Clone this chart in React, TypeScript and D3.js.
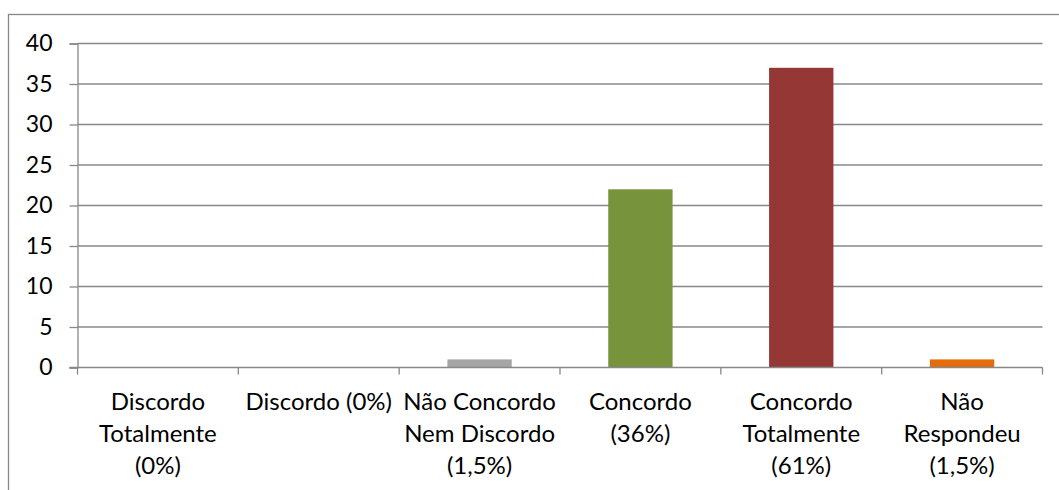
import * as d3 from "d3";
import { useEffect, useRef } from "react";

const categories = [
  ["Discordo", "Totalmente", "(0%)"],
  ["Discordo (0%)"],
  ["Não Concordo", "Nem Discordo", "(1,5%)"],
  ["Concordo", "(36%)"],
  ["Concordo", "Totalmente", "(61%)"],
  ["Não", "Respondeu", "(1,5%)"],
];
const values = [0, 0, 1, 22, 37, 1];
const colors = ["#A5A5A5", "#A5A5A5", "#A5A5A5", "#77933C", "#953735", "#E46C0A"];
const yTicks = [0, 5, 10, 15, 20, 25, 30, 35, 40];

export default function App() {
  const ref = useRef<SVGSVGElement | null>(null);

  useEffect(() => {
    if (!ref.current) return;
    const svg = d3.select(ref.current);
    svg.selectAll("*").remove();

    const width = 1059;
    const height = 490;
    const left = 77.5;
    const right = 1042.5;
    const top = 43.5;
    const bottom = 367.5;
    const font = "Lato, 'Open Sans', sans-serif";
    const grid = "#888888";

    // chart frame (only top/left visible)
    svg
      .append("rect")
      .attr("x", 8.5)
      .attr("y", 14.5)
      .attr("width", width + 20)
      .attr("height", height + 20)
      .attr("fill", "none")
      .attr("stroke", grid)
      .attr("stroke-width", 1.3);

    const x = d3
      .scaleBand<number>()
      .domain(d3.range(categories.length))
      .range([left, right])
      .paddingInner(0.6)
      .paddingOuter(0.3);
    const y = d3.scaleLinear().domain([0, 40]).range([bottom, top]);

    // gridlines
    svg
      .append("g")
      .selectAll("line")
      .data(yTicks.filter((t) => t > 0))
      .join("line")
      .attr("x1", left)
      .attr("x2", right)
      .attr("y1", (d) => y(d))
      .attr("y2", (d) => y(d))
      .attr("stroke", grid)
      .attr("stroke-width", 1.3);

    // bars
    svg
      .append("g")
      .selectAll("rect")
      .data(values)
      .join("rect")
      .attr("x", (_d, i) => x(i)!)
      .attr("width", x.bandwidth())
      .attr("y", (d) => y(d))
      .attr("height", (d) => bottom - y(d))
      .attr("fill", (_d, i) => colors[i]);

    // y axis
    const yAxis = svg
      .append("g")
      .attr("transform", `translate(${left},0)`)
      .call(d3.axisLeft(y).tickValues(yTicks).tickSize(8).tickPadding(17));
    yAxis.select(".domain").attr("stroke", grid).attr("stroke-width", 1.3);
    yAxis.selectAll(".tick line").attr("stroke", grid).attr("stroke-width", 1.3);
    yAxis
      .selectAll(".tick text")
      .attr("fill", "#000")
      .style("font-family", font)
      .style("font-size", "23px");

    // x axis line + ticks at category boundaries
    const step = (right - left) / categories.length;
    svg
      .append("line")
      .attr("x1", left - 8)
      .attr("x2", right)
      .attr("y1", bottom)
      .attr("y2", bottom)
      .attr("stroke", grid)
      .attr("stroke-width", 1.3);
    svg
      .append("g")
      .selectAll("line")
      .data(d3.range(categories.length + 1))
      .join("line")
      .attr("x1", (d) => left + d * step)
      .attr("x2", (d) => left + d * step)
      .attr("y1", bottom)
      .attr("y2", bottom + 7)
      .attr("stroke", grid)
      .attr("stroke-width", 1.3);

    // category labels
    const labels = svg
      .append("g")
      .selectAll("text")
      .data(categories)
      .join("text")
      .attr("text-anchor", "middle")
      .attr("fill", "#000")
      .style("font-family", font)
      .style("font-size", "24px")
      .attr("transform", (_d, i) => `translate(${x(i)! + x.bandwidth() / 2},410)`);
    labels
      .selectAll("tspan")
      .data((d) => d)
      .join("tspan")
      .attr("x", 0)
      .attr("y", (_d, i) => i * 32)
      .text((d) => d);
  }, []);

  return (
    <svg
      ref={ref}
      width={1059}
      height={490}
      style={{ position: "absolute", left: 0, top: 0, background: "#fff" }}
    />
  );
}
